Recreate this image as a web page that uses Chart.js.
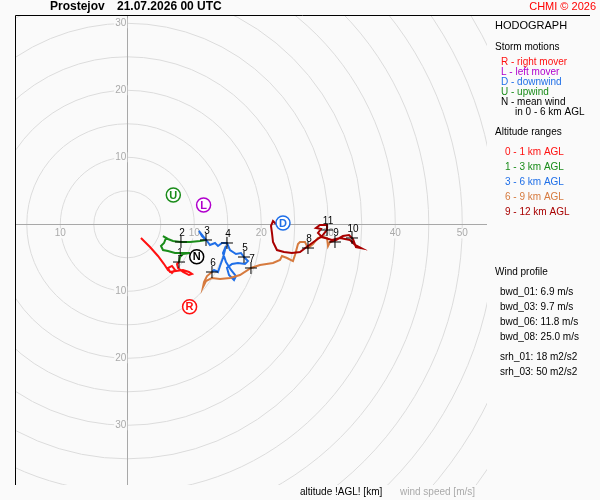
<!DOCTYPE html>
<html>
<head>
<meta charset="utf-8">
<script src="https://cdn.jsdelivr.net/npm/chart.js@4.4.0/dist/chart.umd.min.js"></script>
<style>
html, body { margin: 0; padding: 0; background: #fafafa; }
canvas { display: block; }
</style>
</head>
<body>
<canvas id="hodo" width="600" height="500"></canvas>
<script>
// hodograph, wind components in m/s (u to the east, v to the north)
const layer01U = [2.04, 3.39, 4.58, 5.48, 6.07, 6.67, 7.12, 6.67, 6.07, 6.37, 7.27, 8.31, 9.21, 9.66, 9.21, 8.31, 7.57, 7.42, 7.72];
const layer01V = [-2.04, -3.39, -4.73, -5.93, -6.82, -7.27, -6.82, -6.22, -6.52, -7.12, -6.97, -6.82, -7.12, -7.42, -7.57, -7.12, -6.52, -5.93, -5.63];

const layer13U = [7.72, 7.87, 8.31, 9.36, 8.61, 7.12, 6.07, 5.33, 5.03, 5.48, 5.78, 5.33, 6.07, 6.82, 8.01, 9.36, 10.85, 11.75];
const layer13V = [-5.63, -4.88, -4.43, -4.28, -4.28, -4.28, -3.99, -3.84, -3.24, -2.79, -2.04, -1.75, -2.19, -2.49, -2.64, -2.64, -2.49, -2.34];

const layer36U = [11.75, 11.15, 10.70, 11.30, 11.90, 12.34, 13.09, 13.54, 14.13, 14.88, 15.33, 16.22, 16.97, 17.42, 18.01, 17.57, 16.52, 15.63, 14.88, 15.18, 15.93, 16.22, 15.48, 14.73, 14.28, 14.73, 14.28, 13.84, 13.54, 12.94, 12.64];
const layer36V = [-2.34, -1.75, -1.00, -1.75, -2.49, -3.09, -2.79, -3.24, -2.79, -2.79, -3.84, -4.43, -4.28, -4.88, -5.48, -5.93, -5.78, -5.93, -6.52, -7.57, -8.31, -7.72, -6.82, -5.63, -4.28, -3.24, -5.03, -6.22, -7.12, -6.82, -7.12];

const layer69U = [12.64, 11.90, 11.45, 11.30, 11.75, 12.64, 13.84, 15.33, 16.82, 18.46, 19.81, 21.75, 22.79, 23.09, 23.84, 24.73, 25.03, 25.48, 25.78, 26.52, 26.97, 27.72, 28.46, 29.21, 29.81, 29.96, 30.25];
const layer69V = [-7.12, -7.72, -8.61, -9.36, -8.46, -8.01, -8.16, -8.01, -7.57, -6.52, -6.07, -5.78, -5.33, -4.73, -5.03, -5.48, -4.58, -2.94, -2.64, -2.64, -3.54, -2.94, -2.04, -1.90, -2.04, -3.24, -2.64];

const layer912U = [30.25, 31.15, 32.19, 33.09, 33.69, 34.13, 34.88, 33.99, 33.24, 31.75, 30.55, 29.06, 28.46, 28.91, 28.16, 28.76, 29.81, 29.81, 29.06, 28.01, 26.97, 25.78, 24.58, 23.39, 22.34, 21.75, 21.60, 21.45, 21.75, 22.19];
const layer912V = [-2.64, -2.34, -1.75, -1.60, -2.19, -3.39, -3.54, -3.09, -2.34, -2.04, -2.34, -1.90, -1.30, -0.70, -0.55, -0.10, -0.10, -0.85, -1.75, -2.49, -3.24, -4.13, -4.28, -4.13, -3.84, -2.64, -1.30, -0.25, 0.49, 0.04];

// altitude marks along the curve [km]
const heightLabels = ['1', '2', '3', '4', '5', '6', '7', '8', '9', '10', '11'];
const heightU = [7.72, 8.01, 11.75, 14.88, 17.42, 12.64, 18.46, 26.97, 31.0, 33.54, 29.81];
const heightV = [-5.63, -2.64, -2.34, -2.79, -4.88, -7.12, -6.52, -3.54, -2.64, -2.04, -0.85];

// storm motions
const stormLabels = ['R', 'L', 'D', 'U', 'N'];
const stormU = [9.30, 11.39, 23.24, 6.87, 10.36];
const stormV = [-12.30, 2.88, 0.19, 4.37, -4.84];

// speed rings [m/s]
const ringSpeeds = [5, 10, 15, 20, 25, 30, 35, 40, 45, 50, 55, 60, 65];
const ringLabelSpeeds = [10, 20, 30, 40, 50];

// wind profile numbers
const profileNames = ['bwd_01', 'bwd_03', 'bwd_06', 'bwd_08', 'srh_01', 'srh_03'];
const profileValues = ['6.9', '9.7', '11.8', '25.0', '18', '50'];
const profileUnits = ['m/s', 'm/s', 'm/s', 'm/s', 'm2/s2', 'm2/s2'];

const FONT = '"Liberation Sans", Arial, Helvetica, sans-serif';
const BG = '#fafafa';
const colRed = '#ff1010';
const colGreen = '#1a8c1a';
const colBlue = '#1f6fe8';
const colBrown = '#d67a3e';
const colDark = '#a80000';
const colPurple = '#b000cc';
const stormColors = [colRed, colPurple, colBlue, colGreen, '#000000'];

function pts(us, vs) {
    return us.map((u, i) => ({x: u, y: vs[i]}));
}

function trace(label, us, vs, color, order) {
    return {
        label: label,
        data: pts(us, vs),
        showLine: true,
        borderColor: color,
        borderWidth: 2,
        pointRadius: 0,
        tension: 0,
        order: order
    };
}

const gridPlugin = {
    id: 'grid',
    beforeDatasetsDraw(chart) {
        const {ctx, chartArea: a, scales: {x, y}} = chart;
        const cx = x.getPixelForValue(0);
        const cy = y.getPixelForValue(0);
        const k = x.getPixelForValue(1) - cx;
        ctx.save();
        ctx.beginPath();
        ctx.rect(a.left, a.top, a.right - a.left, a.bottom - a.top);
        ctx.clip();
        ctx.strokeStyle = '#dcdcdc';
        ctx.lineWidth = 1;
        ringSpeeds.forEach(s => {
            ctx.beginPath();
            ctx.arc(cx, cy, s * k, 0, Math.PI * 2);
            ctx.stroke();
        });
        // axes through the origin
        ctx.strokeStyle = '#a8a8a8';
        ctx.beginPath();
        ctx.moveTo(a.left, Math.round(cy) + 0.5);
        ctx.lineTo(a.right, Math.round(cy) + 0.5);
        ctx.moveTo(Math.round(cx) + 0.5, a.top);
        ctx.lineTo(Math.round(cx) + 0.5, a.bottom);
        ctx.stroke();

        ctx.font = '10px ' + FONT;
        ctx.textBaseline = 'middle';
        const lab = (t, px, py, align) => {
            const w = ctx.measureText(t).width;
            const lx = align === 'center' ? px - w / 2 : px - w;
            ctx.fillStyle = BG;
            ctx.fillRect(lx - 1, py - 5, w + 2, 10);
            ctx.fillStyle = '#aaaaaa';
            ctx.textAlign = 'left';
            ctx.fillText(t, lx, py);
        };
        ringLabelSpeeds.forEach(s => {
            [s, -s].forEach(v => {
                const px = x.getPixelForValue(v);
                if (px > a.left + 6 && px < a.right - 6) lab(String(s), px, cy + 9, 'center');
                const py = y.getPixelForValue(v);
                if (py > a.top + 4 && py < a.bottom - 4) lab(String(s), cx - 1, py, 'right');
            });
        });
        ctx.restore();
    },
    afterDatasetsDraw(chart) {
        const ctx = chart.ctx;
        ctx.save();
        // altitude numbers
        const hm = chart.getDatasetMeta(5);
        ctx.font = '10px ' + FONT;
        ctx.fillStyle = '#000';
        ctx.textAlign = 'center';
        ctx.textBaseline = 'middle';
        hm.data.forEach((p, i) => {
            ctx.fillText(heightLabels[i], p.x + 1, p.y - 9);
        });
        // storm motion letters
        const sm = chart.getDatasetMeta(6);
        ctx.font = 'bold 11px ' + FONT;
        sm.data.forEach((p, i) => {
            ctx.fillStyle = stormColors[i];
            ctx.fillText(stormLabels[i], p.x, p.y + 0.5);
        });
        ctx.restore();
    },
    afterDraw(chart) {
        const {ctx, chartArea: a} = chart;
        ctx.save();
        // frame
        ctx.strokeStyle = '#000';
        ctx.lineWidth = 1;
        ctx.beginPath();
        ctx.moveTo(a.left + 0.5, a.bottom);
        ctx.lineTo(a.left + 0.5, a.top + 0.5);
        ctx.lineTo(590, a.top + 0.5);
        ctx.stroke();

        ctx.textBaseline = 'middle';
        ctx.textAlign = 'left';
        ctx.fillStyle = '#000';
        ctx.font = 'bold 12px ' + FONT;
        ctx.fillText('Prostejov', 50, 7);
        ctx.fillText('21.07.2026 00 UTC', 117, 7);
        ctx.font = '11px ' + FONT;
        ctx.fillStyle = '#ff0000';
        ctx.textAlign = 'right';
        ctx.fillText('CHMI \u00a9 2026', 596, 7);
        ctx.textAlign = 'left';

        const put = (t, px, py, c, f) => {
            ctx.font = f || ('10px ' + FONT);
            ctx.fillStyle = c || '#000';
            ctx.fillText(t, px, py);
        };
        put('HODOGRAPH', 495, 26, '#000', '11px ' + FONT);
        put('Storm motions', 495, 47);
        put('R - right mover', 501, 62, colRed);
        put('L - left mover', 501, 72, colPurple);
        put('D - downwind', 501, 82, colBlue);
        put('U - upwind', 501, 92, colGreen);
        put('N - mean wind', 501, 102);
        put('in 0 - 6 km AGL', 515, 112);
        put('Altitude ranges', 495, 132);
        put('0 - 1 km AGL', 505, 152, colRed);
        put('1 - 3 km AGL', 505, 167, colGreen);
        put('3 - 6 km AGL', 505, 182, colBlue);
        put('6 - 9 km AGL', 505, 197, colBrown);
        put('9 - 12 km AGL', 505, 212, colDark);
        put('Wind profile', 495, 272);
        const rowsY = [292, 307, 322, 337, 357, 372];
        profileNames.forEach((n, i) => {
            put(n + ': ' + profileValues[i] + ' ' + profileUnits[i], 500, rowsY[i]);
        });
        put('altitude !AGL! [km]', 300, 492);
        put('wind speed [m/s]', 400, 492, '#aaaaaa');
        ctx.restore();
    }
};

const chart = new Chart(document.getElementById('hodo'), {
    type: 'scatter',
    data: {
        datasets: [
            trace('0 - 1 km AGL', layer01U, layer01V, colRed, 6),
            trace('1 - 3 km AGL', layer13U, layer13V, colGreen, 5),
            trace('3 - 6 km AGL', layer36U, layer36V, colBlue, 4),
            trace('6 - 9 km AGL', layer69U, layer69V, colBrown, 3),
            trace('9 - 12 km AGL', layer912U, layer912V, colDark, 2),
            {
                label: 'altitude',
                data: pts(heightU, heightV),
                pointStyle: 'cross',
                pointRadius: 6,
                pointBorderWidth: 1,
                pointBorderColor: '#000',
                showLine: false,
                order: 1
            },
            {
                label: 'storm motions',
                data: pts(stormU, stormV),
                pointStyle: 'circle',
                pointRadius: 7,
                pointBorderWidth: 1.5,
                pointBackgroundColor: '#ffffff',
                pointBorderColor: stormColors,
                showLine: false,
                order: 0
            }
        ]
    },
    options: {
        responsive: false,
        animation: false,
        devicePixelRatio: 1,
        layout: {
            autoPadding: false,
            padding: {left: 15, top: 15, right: 113, bottom: 15}
        },
        scales: {
            x: {type: 'linear', min: -16.76, max: 53.69, display: false},
            y: {type: 'linear', min: -38.91, max: 31.24, display: false}
        },
        plugins: {
            legend: {display: false},
            tooltip: {enabled: false}
        },
        events: []
    },
    plugins: [gridPlugin]
});
</script>
</body>
</html>
